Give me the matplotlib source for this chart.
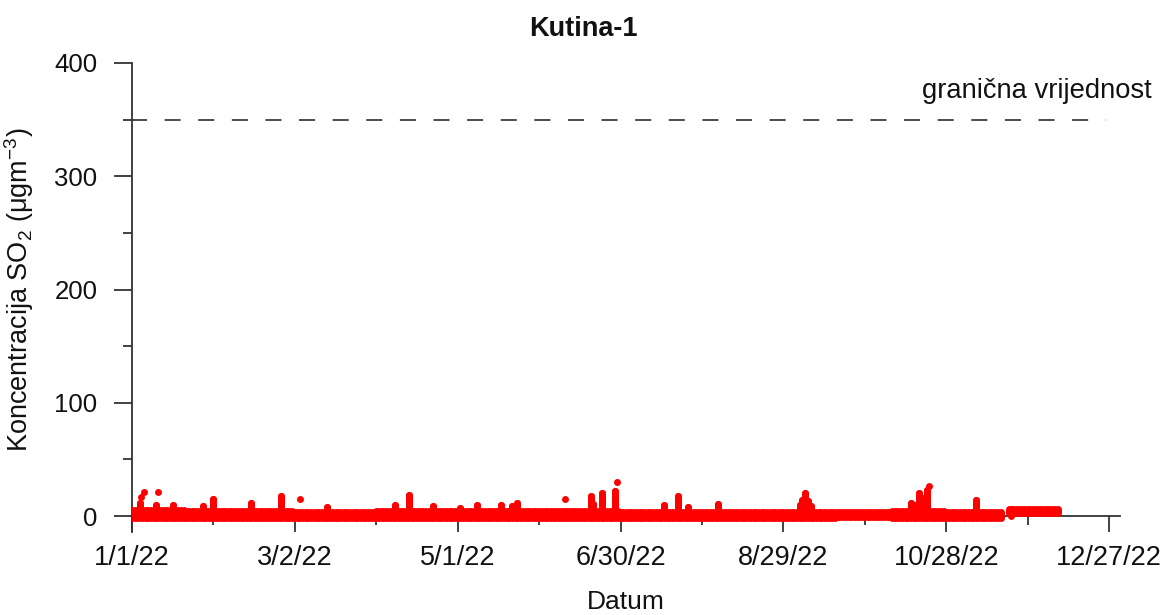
import numpy as np
import pandas as pd
import matplotlib
matplotlib.use("Agg")
import matplotlib.pyplot as plt
import matplotlib.dates as mdates

plt.rcParams['font.family'] = ['Liberation Sans', 'DejaVu Sans']
plt.rcParams['mathtext.fontset'] = 'custom'
plt.rcParams['mathtext.rm'] = 'Liberation Sans'
plt.rcParams['mathtext.it'] = 'Liberation Sans:italic'

# ---------------- data (days since 1 Jan 2022, SO2 in ug/m3) ----------------
seg_start = [0, 10, 20, 30, 40, 50, 60, 70, 80, 90, 100, 110, 120, 130, 140, 150,
             160, 170, 180, 190, 200, 210, 220, 230, 240, 250, 260, 270, 280, 290,
             300, 310, 323, 333]
seg_end = [9, 19, 29, 39, 49, 59, 69, 79, 89, 99, 109, 119, 129, 139, 149, 159,
           169, 179, 189, 199, 209, 219, 229, 239, 249, 259, 269, 279, 289, 299,
           309, 320, 332, 341]
seg_high = [5.5, 5, 4.5, 4.5, 4.5, 4.5, 4, 4, 4, 4.5, 4.5, 4.5, 4.5, 4.5, 4.5, 4.5,
            4.5, 4.5, 4, 4, 4, 4, 3.5, 3.5, 3.5, 3.5, 4, 4, 4.5, 4.5,
            4, 4, 6, 6]
seg_low = [-2, -1.5, -1.5, -1.5, -1.5, -1.5, -2, -1.5, -1.5, -1.5, -1.5, -1.5, -1.5, -1.5, -1.5, -1.5,
           -1.5, -1.5, -1.5, -1.5, -1.5, -1.5, -1.5, -1.5, -1.5, -1.5, -1, -1, -1.5, -1.5,
           -1.5, -1.5, 2.5, 2.5]

col_day = [3, 9, 15, 26, 30, 44, 55, 72, 97, 102, 111, 121, 127, 136, 140, 142,
           169, 170, 173, 178, 196, 201, 205, 216, 246, 247, 248, 249, 250,
           287, 288, 290, 291, 293, 311, 324]
col_top = [12, 10, 10, 9, 15, 12, 18, 8, 10, 19, 9, 7, 10, 10, 9, 12,
           18, 11, 20, 22, 10, 18, 8, 11, 10, 14, 20, 13, 9,
           12, 10, 20, 16, 23, 14, 6]

dot_day = [3.3, 4.4, 9.6, 62, 159.5, 178.7, 293.7]
dot_val = [17, 21, 21, 15, 15, 30, 27]

limit_value = 350
limit_label = "granična vrijednost"
major_tick_labels = ["1/1/22", "3/2/22", "5/1/22", "6/30/22", "8/29/22", "10/28/22", "12/27/22"]
title = "Kutina-1"

# ---------------- figure ----------------
start = pd.Timestamp("2022-01-01")
def d2x(d):
    return mdates.date2num(start + pd.to_timedelta(np.asarray(d, dtype=float), unit="D"))

fig = plt.figure(figsize=(11.66, 6.15), dpi=100)
ax = fig.add_axes([132/1166, 1-532/615, (1120-132)/1166, (532-63)/615])

red = "#FF0000"
lw_px = 7.0
lw_pt = lw_px * 72 / 100

band_x, band_lo, band_hi = [], [], []
for s, e, lo, hi in zip(seg_start, seg_end, seg_low, seg_high):
    days = np.arange(s, e + 1)
    band_x.extend(d2x(days))
    band_lo.extend([lo] * len(days))
    band_hi.extend([hi] * len(days))
vc = ax.vlines(band_x, band_lo, band_hi, colors=red, linewidth=lw_pt, zorder=4)
vc.set_capstyle("round")

vc2 = ax.vlines(d2x(col_day), 0, col_top, colors=red, linewidth=lw_pt, zorder=4)
vc2.set_capstyle("round")
ax.plot(d2x(col_day), col_top, "o", color=red, ms=5.0, mew=0, zorder=4)

ax.plot(d2x(dot_day), dot_val, "o", color=red, ms=5.0, mec=red, mew=0, zorder=4)

# limit line
lx = d2x([-0.5, 358.8])
ax.plot(lx, [limit_value, limit_value], color="#1a1a1a", lw=1.1,
        dashes=(10.5, 11.5), clip_on=False)
ax.text(d2x(375.8), 369, limit_label, ha="right", va="baseline",
        fontsize=19.7, color="#111111", clip_on=False)

# axes
ax.set_xlim(d2x(0), d2x(364))
ax.set_ylim(-14, 400)
ax.spines["top"].set_visible(False)
ax.spines["right"].set_visible(False)
ax.spines["bottom"].set_position(("data", 0))
for sp in ("left", "bottom"):
    ax.spines[sp].set_color("#333333")
    ax.spines[sp].set_linewidth(1.3)
    ax.spines[sp].set_zorder(2)

ax.set_xticks(d2x(np.arange(0, 361, 60)))
ax.set_xticklabels(major_tick_labels)
ax.set_xticks(d2x(np.arange(30, 361, 60)), minor=True)
ax.set_yticks([0, 100, 200, 300, 400])
ax.set_yticks([50, 150, 250, 350], minor=True)

ax.tick_params(axis="x", which="major", length=11.5, width=1.3, color="#333333",
               labelsize=19.5, pad=9, labelcolor="#111111")
ax.tick_params(axis="x", which="minor", length=6.5, width=1.3, color="#333333")
ax.tick_params(axis="y", which="major", length=13, width=1.3, color="#333333",
               labelsize=18.5, pad=12, labelcolor="#111111")
ax.tick_params(axis="y", which="minor", length=6.5, width=1.3, color="#333333")

ax.set_xlabel("Datum", fontsize=19, labelpad=14, color="#111111")
ax.set_ylabel("Koncentracija SO$_2$ (μgm$^{-3}$)", fontsize=19.5, color="#111111")
ax.yaxis.set_label_coords(-0.097, 0.516)
fig.text(0.5, 1-29/615, title, ha="center", va="center", fontsize=19.5,
         fontweight="bold", color="#111111")

fig.savefig("out.png", dpi=100)
